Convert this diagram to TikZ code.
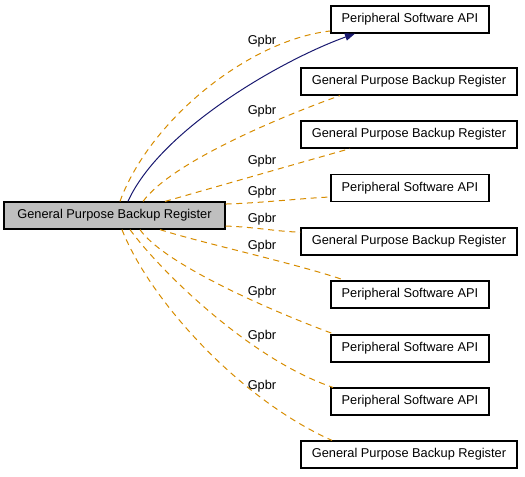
\documentclass[tikz,border=0pt]{standalone}
\usepackage{fontspec}
\setmainfont{Liberation Sans}
\usepackage{tikz}
\usetikzlibrary{arrows.meta}
\definecolor{grporange}{RGB}{215,140,0}
\definecolor{usesblue}{RGB}{25,25,112}
\definecolor{grpgray}{RGB}{191,191,191}

\begin{document}
\begin{tikzpicture}[x=0.75pt, y=-0.75pt,
  font=\fontsize{9.6}{11.5}\selectfont,
  current/.style={draw, line width=0.9pt, fill=grpgray, inner sep=0pt, minimum width=165.75pt, minimum height=20.25pt},
  reg/.style={draw, line width=0.9pt, fill=white, inner sep=0pt, minimum width=162pt, minimum height=20.25pt},
  api/.style={draw, line width=0.9pt, fill=white, inner sep=0pt, minimum width=118.5pt, minimum height=20.25pt},
  grp/.style={draw=grporange, line width=0.75pt, dash pattern=on 4.5pt off 3.5pt},
  uses/.style={draw=usesblue, line width=0.75pt, -{Triangle[length=7.5pt, width=5.5pt]}},
  lbl/.style={inner sep=0pt}
]
\useasboundingbox (0,0) rectangle (525,476);
\node[current] (gpbr) at (114.5,215.5) {General Purpose Backup Register};
\node[api] (api1) at (410,19.5) {Peripheral Software API};
\node[reg] (reg2) at (409,81.5) {General Purpose Backup Register};
\node[reg] (reg3) at (409,134.5) {General Purpose Backup Register};
\node[api] (api4) at (410,188) {Peripheral Software API};
\node[reg] (reg5) at (409,241.5) {General Purpose Backup Register};
\node[api] (api6) at (410,294.5) {Peripheral Software API};
\node[api] (api7) at (410,348.5) {Peripheral Software API};
\node[api] (api8) at (410,401.5) {Peripheral Software API};
\node[reg] (reg9) at (409,454.5) {General Purpose Backup Register};

% group edges
\draw[grp] ([xshift=4.1pt]gpbr.north) .. controls +(30,-82) and +(-81,9) .. ([yshift=-8.6pt]api1.west);
\draw[grp] ([xshift=21.4pt]gpbr.north) .. controls +(27,-37) and +(-70,25) .. ([xshift=-51.75pt]reg2.south);
\draw[grp] ([xshift=37.9pt]gpbr.north) .. controls +(35,-10) and +(-60,17) .. ([xshift=-44.25pt]reg3.south);
\draw[grp] ([yshift=8.6pt]gpbr.east) .. controls +(35,-1) and +(-25,1) .. ([yshift=-6.75pt]api4.west);
\draw[grp] ([yshift=-7.9pt]gpbr.east) .. controls +(30,1) and +(-20,0) .. ([yshift=7.1pt]reg5.west);
\draw[grp] ([xshift=34.1pt]gpbr.south) .. controls +(40,13) and +(-45,-16) .. ([xshift=-48.75pt]api6.north);
\draw[grp] ([xshift=19.1pt]gpbr.south) .. controls +(25,36) and +(-55,-20) .. ([xshift=-56.25pt]api7.north);
\draw[grp] ([xshift=11.6pt]gpbr.south) .. controls +(30,41) and +(-83,-28) .. ([xshift=-57.75pt]api8.north);
\draw[grp] ([xshift=5.6pt]gpbr.south) .. controls +(28,71) and +(-92,-41) .. ([xshift=-57.75pt]reg9.north);

% uses edge
\draw[uses] ([xshift=10.1pt]gpbr.north) .. controls +(32,-71) and +(-75,27) .. ([xshift=-41.25pt]api1.south);

\node[lbl] (l1) at (262,41) {Gpbr};
\node[lbl] (l2) at (262,111) {Gpbr};
\node[lbl] (l3) at (262,161) {Gpbr};
\node[lbl] (l4) at (262,192) {Gpbr};
\node[lbl] (l5) at (262,219) {Gpbr};
\node[lbl] (l6) at (262,246) {Gpbr};
\node[lbl] (l7) at (262,292) {Gpbr};
\node[lbl] (l8) at (262,336) {Gpbr};
\node[lbl] (l9) at (262,386) {Gpbr};
\end{tikzpicture}
\end{document}
